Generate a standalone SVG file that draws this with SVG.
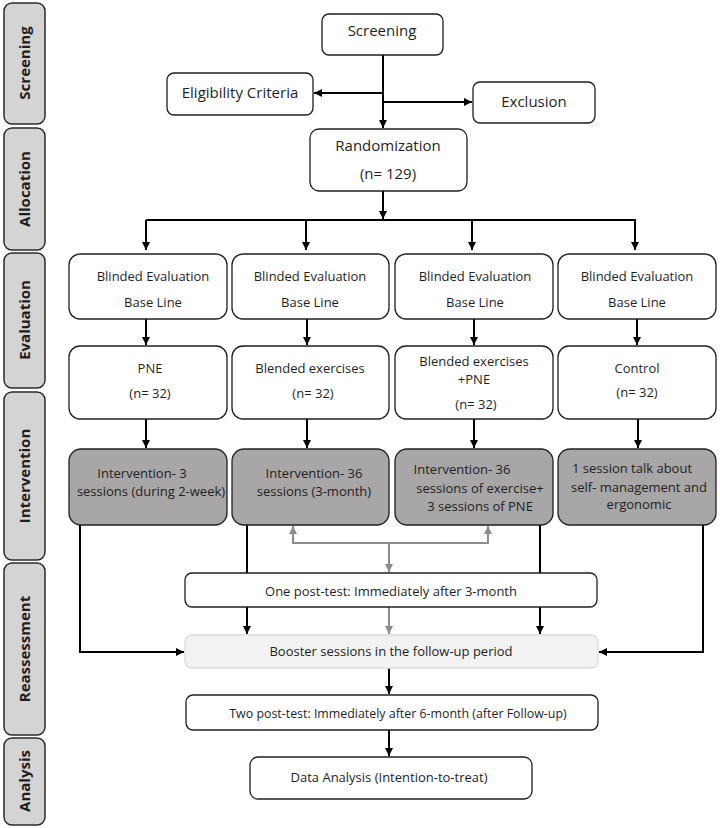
<svg xmlns="http://www.w3.org/2000/svg" width="720" height="828" viewBox="0 0 720 828">
<defs>
<style>
.side{fill:#d4d4d4;stroke:#2b2b2b;stroke-width:1.5}
.sidet{font-family:"Open Sans",sans-serif;font-weight:bold;font-size:15px;fill:#1f1f1f;text-anchor:middle}
.box{fill:#fff;stroke:#1f1f1f;stroke-width:1.3}
.dark{fill:#a8a6a6;stroke:#1f1f1f;stroke-width:1.3}
.light{fill:#f2f2f2;stroke:#dcdcdc;stroke-width:1.3}
.t15{font-family:"Open Sans",sans-serif;font-size:15px;fill:#1f1f1f;text-anchor:middle}
.t13{font-family:"Open Sans",sans-serif;font-size:13px;fill:#1f1f1f;text-anchor:middle}
.c{fill:none;stroke:#000;stroke-width:2}
.g{fill:none;stroke:#8c8c8c;stroke-width:2}
</style>
<marker id="ab" viewBox="0 0 10 10" refX="10" refY="5" markerWidth="8" markerHeight="8" markerUnits="userSpaceOnUse" orient="auto-start-reverse"><path d="M0,0 L10,5 L0,10 Z" fill="#000"/></marker>
<marker id="ag" viewBox="0 0 10 10" refX="10" refY="5" markerWidth="8" markerHeight="8" markerUnits="userSpaceOnUse" orient="auto-start-reverse"><path d="M0,0 L10,5 L0,10 Z" fill="#8c8c8c"/></marker>
</defs>

<g id="phase-screening"><rect class="side" x="4" y="3" width="41" height="121" rx="8"/><text class="sidet" transform="translate(30,63) rotate(-90)">Screening</text></g>
<g id="phase-allocation"><rect class="side" x="4" y="128" width="41" height="122" rx="8"/><text class="sidet" transform="translate(30,189) rotate(-90)">Allocation</text></g>
<g id="phase-evaluation"><rect class="side" x="4" y="253" width="41" height="135" rx="8"/><text class="sidet" transform="translate(30,320) rotate(-90)">Evaluation</text></g>
<g id="phase-intervention"><rect class="side" x="4" y="392" width="41" height="168" rx="8"/><text class="sidet" transform="translate(30,476) rotate(-90)">Intervention</text></g>
<g id="phase-reassessment"><rect class="side" x="4" y="563" width="41" height="172" rx="8"/><text class="sidet" transform="translate(30,649) rotate(-90)">Reassessment</text></g>
<g id="phase-analysis"><rect class="side" x="4" y="738" width="41" height="87" rx="8"/><text class="sidet" transform="translate(30,781) rotate(-90)">Analysis</text></g>

<g id="connectors">
<path class="c" d="M383,55 V128" marker-end="url(#ab)"/>
<path class="c" d="M383,93 H314" marker-end="url(#ab)"/>
<path class="c" d="M383,102 H472" marker-end="url(#ab)"/>
<path class="c" d="M383,191 V219" marker-end="url(#ab)"/>
<path class="c" d="M146,220 H636"/>
<path class="c" d="M146,220 V250" marker-end="url(#ab)"/>
<path class="c" d="M306,220 V250" marker-end="url(#ab)"/>
<path class="c" d="M472,220 V250" marker-end="url(#ab)"/>
<path class="c" d="M635,220 V250" marker-end="url(#ab)"/>
<path class="c" d="M146,319 V345" marker-end="url(#ab)"/>
<path class="c" d="M307,319 V345" marker-end="url(#ab)"/>
<path class="c" d="M474,319 V345" marker-end="url(#ab)"/>
<path class="c" d="M637,319 V345" marker-end="url(#ab)"/>
<path class="c" d="M146,419 V448" marker-end="url(#ab)"/>
<path class="c" d="M307,419 V448" marker-end="url(#ab)"/>
<path class="c" d="M474,419 V448" marker-end="url(#ab)"/>
<path class="c" d="M638,419 V448" marker-end="url(#ab)"/>
<path class="c" d="M80,525 V652 H184" marker-end="url(#ab)"/>
<path class="c" d="M247,525 V573"/>
<path class="c" d="M247,607 V634" marker-end="url(#ab)"/>
<path class="c" d="M540,525 V573"/>
<path class="c" d="M540,607 V634" marker-end="url(#ab)"/>
<path class="c" d="M703,525 V652 H599" marker-end="url(#ab)"/>
<path class="c" d="M389,668 V694" marker-end="url(#ab)"/>
<path class="c" d="M389,730 V756" marker-end="url(#ab)"/>
<path class="g" d="M293,526 V543 H488 V526" marker-start="url(#ag)" marker-end="url(#ag)"/>
<path class="g" d="M389,543 V572" marker-end="url(#ag)"/>
<path class="g" d="M389,607 V634" marker-end="url(#ag)"/>
</g>

<g id="screening"><rect class="box" x="322" y="14" width="121" height="41" rx="7"/><text class="t15" x="382" y="36">Screening</text></g>
<g id="eligibility"><rect class="box" x="167" y="73" width="146" height="42" rx="7"/><text class="t15" x="240" y="98">Eligibility Criteria</text></g>
<g id="exclusion"><rect class="box" x="473" y="82" width="122" height="41" rx="7"/><text class="t15" x="534" y="107">Exclusion</text></g>
<g id="randomization"><rect class="box" x="310" y="129" width="157" height="62" rx="9"/><text class="t15" x="388" y="151">Randomization</text><text class="t15" x="388" y="179">(n= 129)</text></g>

<g id="eval-1"><rect class="box" x="69" y="254" width="158" height="65" rx="11"/><text class="t13" x="153" y="281">Blinded Evaluation</text><text class="t13" x="153" y="307">Base Line</text></g>
<g id="eval-2"><rect class="box" x="232" y="254" width="157" height="65" rx="11"/><text class="t13" x="310" y="281">Blinded Evaluation</text><text class="t13" x="310" y="307">Base Line</text></g>
<g id="eval-3"><rect class="box" x="395" y="254" width="158" height="65" rx="11"/><text class="t13" x="475" y="281">Blinded Evaluation</text><text class="t13" x="475" y="307">Base Line</text></g>
<g id="eval-4"><rect class="box" x="558" y="254" width="158" height="65" rx="11"/><text class="t13" x="637" y="281">Blinded Evaluation</text><text class="t13" x="637" y="307">Base Line</text></g>

<g id="group-pne"><rect class="box" x="69" y="346" width="158" height="73" rx="11"/><text class="t13" x="150" y="373">PNE</text><text class="t13" x="150" y="398">(n= 32)</text></g>
<g id="group-exercise"><rect class="box" x="232" y="346" width="157" height="73" rx="11"/><text class="t13" x="310" y="373">Blended exercises</text><text class="t13" x="313" y="398">(n= 32)</text></g>
<g id="group-combined"><rect class="box" x="395" y="346" width="158" height="73" rx="11"/><text class="t13" x="474" y="366">Blended exercises</text><text class="t13" x="474" y="384">+PNE</text><text class="t13" x="476" y="409">(n= 32)</text></g>
<g id="group-control"><rect class="box" x="558" y="346" width="158" height="73" rx="11"/><text class="t13" x="637" y="373">Control</text><text class="t13" x="637" y="397">(n= 32)</text></g>

<g id="int-pne"><rect class="dark" x="69" y="449" width="158" height="76" rx="12"/><text class="t13" x="142" y="478">Intervention- 3</text><text class="t13" x="151" y="496">sessions (during 2-week)</text></g>
<g id="int-exercise"><rect class="dark" x="232" y="449" width="157" height="76" rx="12"/><text class="t13" x="314" y="478">Intervention- 36</text><text class="t13" x="314" y="496">sessions (3-month)</text></g>
<g id="int-combined"><rect class="dark" x="395" y="449" width="158" height="76" rx="12"/><text class="t13" x="462" y="474">Intervention- 36</text><text class="t13" x="480" y="493">sessions of exercise+</text><text class="t13" x="480" y="511">3 sessions of PNE</text></g>
<g id="int-control"><rect class="dark" x="558" y="449" width="158" height="76" rx="12"/><text class="t13" x="632" y="473">1 session talk about</text><text class="t13" x="639" y="492">self- management and</text><text class="t13" x="639" y="509">ergonomic</text></g>

<g id="posttest-1"><rect class="box" x="185" y="573" width="412" height="34" rx="7"/><text class="t13" x="391" y="596">One post-test: Immediately after 3-month</text></g>
<g id="booster"><rect class="light" x="185" y="635" width="413" height="33" rx="7"/><text class="t13" x="391" y="656">Booster sessions in the follow-up period</text></g>
<g id="posttest-2"><rect class="box" x="186" y="695" width="412" height="35" rx="7"/><text class="t13" x="398" y="718" style="font-size:12.4px">Two post-test: Immediately after 6-month (after Follow-up)</text></g>
<g id="analysis"><rect class="box" x="250" y="757" width="282" height="42" rx="8"/><text class="t13" x="389" y="782">Data Analysis (Intention-to-treat)</text></g>
</svg>
